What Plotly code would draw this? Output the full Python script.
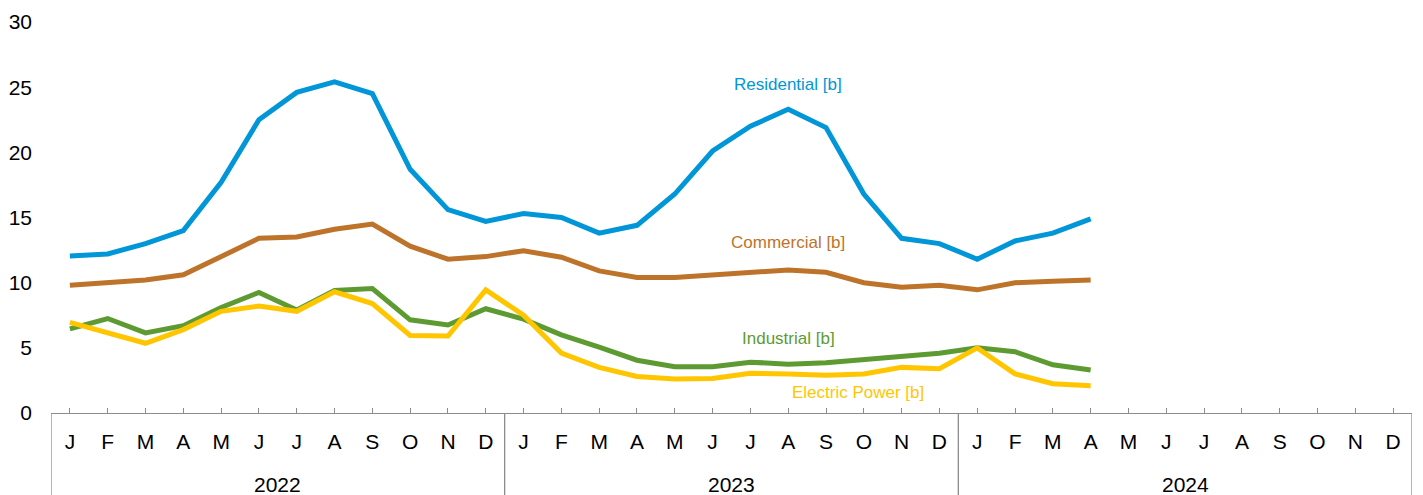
import plotly.graph_objects as go

months = ["J", "F", "M", "A", "M", "J", "J", "A", "S", "O", "N", "D"]
years = ["2022", "2023", "2024"]
month_labels = months * 3

residential = [12.05, 12.2, 13.0, 14.0, 17.7, 22.5, 24.6, 25.4, 24.5, 18.7, 15.6, 14.7,
               15.3, 15.0, 13.8, 14.4, 16.8, 20.1, 22.0, 23.3, 21.9, 16.8, 13.4, 13.0,
               11.8, 13.2, 13.8, 14.9] + [None] * 8
commercial = [9.8, 10.0, 10.2, 10.6, 12.05, 13.4, 13.5, 14.1, 14.5, 12.8, 11.8, 12.0,
              12.45, 11.95, 10.9, 10.4, 10.4, 10.6, 10.8, 10.97, 10.8, 10.0, 9.65, 9.8,
              9.45, 10.0, 10.1, 10.2] + [None] * 8
industrial = [6.45, 7.25, 6.15, 6.7, 8.1, 9.25, 7.9, 9.4, 9.55, 7.15, 6.75, 8.0,
              7.2, 6.0, 5.05, 4.05, 3.55, 3.55, 3.9, 3.75, 3.85, 4.1, 4.37, 4.58,
              5.0, 4.7, 3.7, 3.3] + [None] * 8
electric = [6.95, 6.15, 5.35, 6.4, 7.8, 8.2, 7.8, 9.3, 8.4, 5.95, 5.9, 9.45,
            7.5, 4.6, 3.5, 2.8, 2.6, 2.65, 3.05, 3.0, 2.9, 3.0, 3.5, 3.4,
            5.0, 3.0, 2.25, 2.1] + [None] * 8

series_names = ["Residential [b]", "Commercial [b]", "Industrial [b]", "Electric Power [b]"]
series_values = [residential, commercial, industrial, electric]
series_colors = ["#0096D7", "#BD732A", "#5D9B32", "#FFC600"]
label_pos = [(19.0, 25.2), (19.0, 13.05), (19.0, 5.75), (20.85, 1.55)]

x = list(range(len(month_labels)))
FONT = "Liberation Sans, Arial, sans-serif"

fig = go.Figure()
for name, vals, col in zip(series_names, series_values, series_colors):
    fig.add_trace(go.Scatter(x=x, y=vals, mode="lines", name=name,
                             line=dict(color=col, width=5), connectgaps=False))

for (lx, ly), name, col in zip(label_pos, series_names, series_colors):
    fig.add_annotation(x=lx, y=ly, xref="x", yref="y", text=name, showarrow=False,
                       font=dict(family=FONT, size=17, color=col),
                       xanchor="center", yanchor="middle")

# year labels and dividers
for i, yr in enumerate(years):
    fig.add_annotation(x=i * 12 + 5.5, y=-0.182, xref="x", yref="paper", text=yr,
                       showarrow=False, font=dict(family=FONT, size=21, color="#000"),
                       xanchor="center", yanchor="middle")
for b in range(len(years) + 1):
    fig.add_shape(type="line", xref="x", yref="paper", x0=b * 12 - 0.5, x1=b * 12 - 0.5,
                  y0=0, y1=-0.215, line=dict(color="#8C8C8C", width=1.3))

# page body has an 8px margin: shrink the figure and shift margins accordingly
fig.update_layout(
    width=1415, height=487,
    margin=dict(l=43, r=11, t=14, b=82),
    paper_bgcolor="white", plot_bgcolor="white",
    showlegend=False,
    font=dict(family=FONT, size=21, color="#000"),
)
fig.update_xaxes(range=[-0.5, len(x) - 0.5], tickmode="array", tickvals=x,
                 ticktext=month_labels, ticks="inside", ticklen=5, tickwidth=1.3,
                 tickcolor="#8C8C8C", showline=True, linecolor="#8C8C8C", linewidth=1.3,
                 showgrid=False, zeroline=False, ticklabelstandoff=10, automargin=False,
                 tickfont=dict(family=FONT, size=21, color="#000"))
fig.update_yaxes(range=[0, 30], tickmode="array", tickvals=[0, 5, 10, 15, 20, 25, 30],
                 showgrid=False, zeroline=False, showline=False, ticks="",
                 ticklabelstandoff=18, automargin=False,
                 tickfont=dict(family=FONT, size=21, color="#000"))

fig.write_html("out.html")
